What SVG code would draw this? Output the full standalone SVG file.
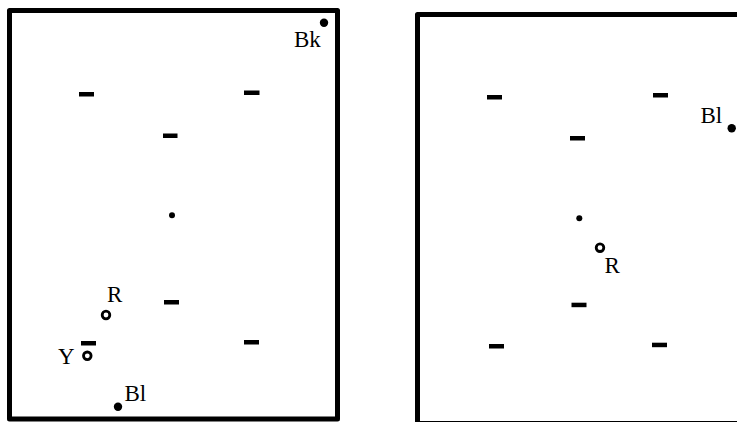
<svg xmlns="http://www.w3.org/2000/svg" width="737" height="422" viewBox="0 0 737 422">
<style>
.frame{fill:none;stroke:#000;stroke-width:5;stroke-linejoin:round}
.dash{fill:#000}
.dot{fill:#000}
.ring{fill:none;stroke:#000;stroke-width:2.8}
text{font-family:'Liberation Serif','Times New Roman',Times,serif;font-size:23px;fill:#000}
</style>
<rect width="737" height="422" fill="#fff"/>
<g id="left-panel">
<rect class="frame" x="9.5" y="10.5" width="328" height="408.5"/>
<g id="L-dashes">
<rect class="dash" x="79" y="92" width="15" height="4.5"/>
<rect class="dash" x="244" y="90.5" width="15.5" height="4.5"/>
<rect class="dash" x="163" y="133.5" width="14.5" height="4.5"/>
<rect class="dash" x="164" y="300" width="15" height="4.5"/>
<rect class="dash" x="81" y="341" width="15" height="4.5"/>
<rect class="dash" x="244" y="340" width="15" height="4.5"/>
</g>
<g id="L-center"><circle class="dot" cx="172" cy="215.3" r="3"/></g>
<g id="L-Bk"><circle class="dot" cx="324" cy="22.7" r="4.2"/><text x="294" y="47">Bk</text></g>
<g id="L-R"><circle class="ring" cx="106" cy="315" r="3.8"/><text x="107" y="302">R</text></g>
<g id="L-Y"><circle class="ring" cx="87.3" cy="355.8" r="3.8"/><text x="58" y="363.5">Y</text></g>
<g id="L-Bl"><circle class="dot" cx="118" cy="406.7" r="4.2"/><text x="124.5" y="401">Bl</text></g>
</g>
<g id="right-panel">
<rect class="frame" x="417.5" y="14.5" width="330" height="409"/>
<g id="R-dashes">
<rect class="dash" x="487" y="95" width="15" height="4.5"/>
<rect class="dash" x="653" y="93" width="15" height="4.5"/>
<rect class="dash" x="570" y="136" width="15" height="4.5"/>
<rect class="dash" x="571.5" y="302.7" width="15" height="4.5"/>
<rect class="dash" x="489" y="344" width="15" height="4.5"/>
<rect class="dash" x="652" y="342.7" width="15" height="4.5"/>
</g>
<g id="R-center"><circle class="dot" cx="579.3" cy="218.3" r="3"/></g>
<g id="R-R"><circle class="ring" cx="600" cy="247.7" r="3.8"/><text x="604.5" y="273">R</text></g>
<g id="R-Bl"><circle class="dot" cx="731.7" cy="128.3" r="4.2"/><text x="700.5" y="123">Bl</text></g>
</g>
<g id="connectors"/>
</svg>
